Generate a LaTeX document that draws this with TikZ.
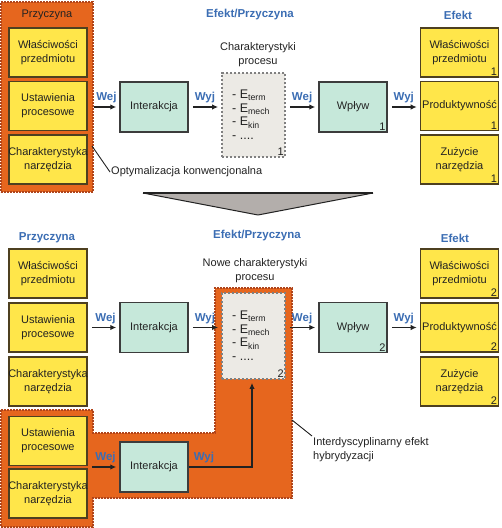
\documentclass[tikz,border=0pt]{standalone}
\usepackage{fontspec}
\setmainfont{Liberation Sans}
\usepackage{xcolor}
\usetikzlibrary{positioning,arrows.meta}

\definecolor{causeorange}{HTML}{E6661E}
\definecolor{causeedge}{HTML}{B0441A}
\definecolor{boxyellow}{HTML}{FFE64A}
\definecolor{boxedge}{HTML}{4E4020}
\definecolor{procgreen}{HTML}{C6E8DA}
\definecolor{procedge}{HTML}{3C3C3C}
\definecolor{chargray}{HTML}{ECEAE5}
\definecolor{charedge}{HTML}{808080}
\definecolor{lblblue}{HTML}{3B6DB3}
\definecolor{txtdark}{HTML}{222222}
\definecolor{arrowgray}{HTML}{B3AEAB}

\tikzset{
  causebg/.style={draw=causeedge, fill=causeorange, line width=1.2pt, dash pattern=on 2pt off 1pt},
  cause/.style={draw=boxedge, fill=boxyellow, line width=1.6pt, text width=70pt, align=center,
    inner xsep=4pt, inner ysep=0pt, minimum height=49pt},
  proc/.style={draw=procedge, fill=procgreen, line width=1.5pt, minimum width=68pt, minimum height=50pt},
  charbox/.style={draw=charedge, fill=chargray, line width=1.8pt, dash pattern=on 2.2pt off 1.8pt,
    text width=43pt, align=left, inner xsep=10pt, minimum width=63pt},
  lbl/.style={text=lblblue, font=\fontsize{11.5}{14}\selectfont\bfseries},
  num/.style={anchor=south east, inner sep=2pt},
  flow/.style={-{Latex[length=6pt,width=5.5pt]}, line width=1.3pt, draw=txtdark, shorten >=3pt},
}
\newcommand{\wideline}[1]{\makebox[70pt]{#1}}
\newcommand{\energies}{\fontsize{12.5}{13.5}\selectfont - E\textsubscript{term}\\- E\textsubscript{mech}\\- E\textsubscript{kin}\\- ....}

\begin{document}
\begin{tikzpicture}[x=1pt, y=-1pt, font=\fontsize{11}{14}\selectfont, text=txtdark]
    \useasboundingbox (0,0) rectangle (502,528);

    % Conventional: cause
    \node [causebg, minimum width=92pt, minimum height=190pt] (cause1) at (47,97) {};
    \node (pz1) at (47,15) {Przyczyna};
    \node [cause] (wl1) at (48,52.5) {Właściwości\\przedmiotu};
    \node [cause] (us1) at (48,106) {Ustawienia\\procesowe};
    \node [cause] (ch1) at (48,159.5) {\wideline{Charakterystyka}\\narzędzia};

    % Conventional: interaction
    \node [proc] (int1) at (154,107) {Interakcja};
    \draw [flow] (cause1.east |- int1.west) -- node [lbl, above] (wej1) {Wej} (int1.west);

    % Conventional: process characteristics
    \node [lbl] (ep1) at (250,15) {Efekt/Przyczyna};
    \node [align=center] (chp1) at (258,55) {Charakterystyki\\procesu};
    \node [charbox, minimum height=84pt] (gb1) at (253.5,115) {\energies};
    \node [num] (gb1n) at (gb1.south east) {1};
    \draw [flow, shorten <=4pt] (int1.east) -- node [lbl, above] (wyj1) {Wyj} (gb1.west |- int1.east);

    % Conventional: influence
    \node [proc] (wp1) at (353,107) {Wpływ};
    \node [num] (wp1n) at (wp1.south east) {1};
    \draw [flow, shorten <=4pt] (gb1.east |- wp1.west) -- node [lbl, above] (wej2) {Wej} (wp1.west);

    % Conventional: effect
    \node [lbl] (ef1) at (458,15) {Efekt};
    \node [cause] (wl1e) at (459.5,52.5) {Właściwości\\przedmiotu};
    \node [num] (wl1en) at (wl1e.south east) {1};
    \node [cause] (pr1) at (459.5,106) {\wideline{Produktywność}};
    \node [num] (pr1n) at (pr1.south east) {1};
    \node [cause] (zu1) at (459.5,159.5) {Zużycie\\narzędzia};
    \node [num] (zu1n) at (zu1.south east) {1};
    \draw [flow, shorten <=4pt] (wp1.east) -- node [lbl, above] (wyj2) {Wyj} (pr1.west |- wp1.east);

    % Conventional optimisation note
    \coordinate (opt) at (92,146);
    \node [anchor=west, inner sep=1pt] (optl) at (110,172) {Optymalizacja konwencjonalna};
    \draw [line width=0.9pt, draw=txtdark] (opt) -- (optl.west);

    % Transition
    \fill [arrowgray] (143,193) -- (373,193) -- (258,215) -- cycle;
    \draw [draw=txtdark, line width=1pt, line join=round] (373,193) -- (258,215) -- (143,193);
    \draw [draw=txtdark, line width=1.8pt] (143,193) -- (373,193);

    % Hybrid: cause region
    \draw [causebg] (1,410) -- (93,410) -- (93,433) -- (215,433) -- (215,288) -- (292,288)
        -- (292,498) -- (93,498) -- (93,527) -- (1,527) -- cycle;

    % Hybrid: cause
    \node [lbl] (pz2) at (47,238) {Przyczyna};
    \node [cause] (wl2) at (48,273.5) {Właściwości\\przedmiotu};
    \node [cause] (us2) at (48,327.5) {Ustawienia\\procesowe};
    \node [cause] (ch2) at (48,381.5) {\wideline{Charakterystyka}\\narzędzia};
    \node [cause] (us3) at (48,441) {Ustawienia\\procesowe};
    \node [cause] (ch3) at (48,493.5) {\wideline{Charakterystyka}\\narzędzia};

    % Hybrid: interactions
    \node [proc] (int2) at (154,327.5) {Interakcja};
    \node [proc] (int3) at (154,467) {Interakcja};
    \draw [flow] ([xshift=4pt]us2.east) -- node [lbl, above] (wej3) {Wej} (int2.west);
    \draw [flow] ([xshift=4pt]us3.east |- int3.west) -- node [lbl, above] (wej4) {Wej} (int3.west);

    % Hybrid: new process characteristics
    \node [lbl] (ep2) at (257,236) {Efekt/Przyczyna};
    \node [align=center] (chp2) at (255,271) {Nowe charakterystyki\\procesu};
    \node [charbox, minimum height=86pt] (gb2) at (253.5,336) {\energies};
    \node [num] (gb2n) at (gb2.south east) {2};
    \draw [flow, shorten <=4pt] (int2.east) -- node [lbl, above] (wyj3) {Wyj} (gb2.west |- int2.east);
    \draw [flow, shorten <=0pt] (int3.east) -| node [lbl, above, pos=0.12] (wyj4) {Wyj} ([xshift=-1.5pt]gb2.south);

    % Hybrid: influence
    \node [proc] (wp2) at (353,327.5) {Wpływ};
    \node [num] (wp2n) at (wp2.south east) {2};
    \draw [flow, shorten <=4pt] (gb2.east |- wp2.west) -- node [lbl, above] (wej5) {Wej} (wp2.west);

    % Hybrid: effect
    \node [lbl] (ef2) at (455,238) {Efekt};
    \node [cause] (wl2e) at (459.5,273.5) {Właściwości\\przedmiotu};
    \node [num] (wl2en) at (wl2e.south east) {2};
    \node [cause] (pr2) at (459.5,327.5) {\wideline{Produktywność}};
    \node [num] (pr2n) at (pr2.south east) {2};
    \node [cause] (zu2) at (459.5,381.5) {Zużycie\\narzędzia};
    \node [num] (zu2n) at (zu2.south east) {2};
    \draw [flow, shorten <=4pt] (wp2.east) -- node [lbl, above] (wyj5) {Wyj} (pr2.west |- wp2.east);

    % Hybridisation note
    \coordinate (hyb) at (292,420);
    \node [anchor=north west, align=left, inner sep=1pt] (hybl) at (312,436) {Interdyscyplinarny efekt\\hybrydyzacji};
    \draw [line width=0.9pt, draw=txtdark] (hyb) -- (hybl.north west);
\end{tikzpicture}
\end{document}
